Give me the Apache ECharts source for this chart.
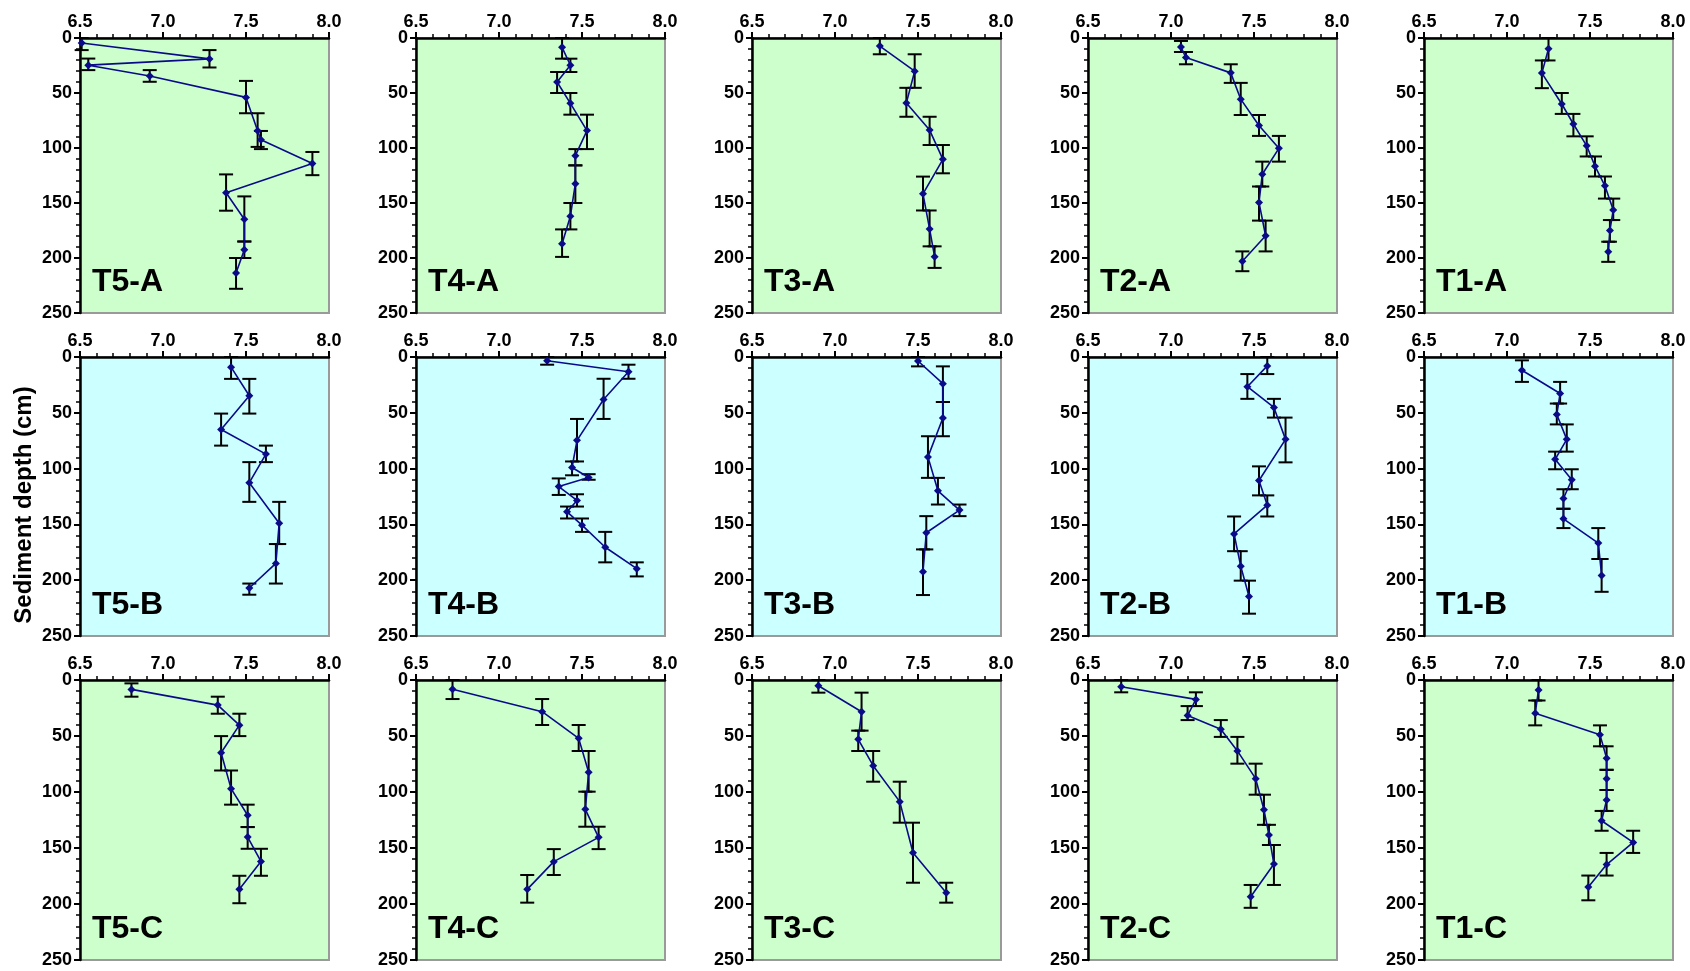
<!DOCTYPE html>
<html><head><meta charset="utf-8">
<script src="https://cdn.jsdelivr.net/npm/echarts@6/dist/echarts.min.js"></script>
<style>html,body{margin:0;padding:0;background:#fff}#c{width:1690px;height:971px}</style>
</head><body><div id="c"></div>
<script>
// ---- Data (pH vs sediment depth, depth error bars) ----
const phTicks = [6.5, 7.0, 7.5, 8.0];
const depthTicks = [0, 50, 100, 150, 200, 250];
const transects = ['T5', 'T4', 'T3', 'T2', 'T1'];
const zones = ['A', 'B', 'C'];
const yTitle = 'Sediment depth (cm)';

const T5A_ph    = [6.51, 7.28, 6.55, 6.92, 7.50, 7.57, 7.59, 7.90, 7.38, 7.49, 7.49, 7.44];
const T5A_depth = [4.5, 19, 24.7, 34.6, 54, 84.3, 92.5, 114, 140.7, 164.8, 192.5, 213.6];
const T5A_lo    = [0, 11, 18.7, 29.2, 39, 68.4, 84.5, 103.6, 124, 144, 185, 200];
const T5A_hi    = [11, 26.8, 29.2, 39.8, 68.4, 99, 101, 124.7, 157, 185, 200, 228];

const T4A_ph    = [7.38, 7.43, 7.35, 7.43, 7.53, 7.46, 7.46, 7.43, 7.38];
const T4A_depth = [8.5, 24.8, 40, 59.4, 84.2, 107, 132.4, 162, 187];
const T4A_lo    = [0, 18.8, 30.9, 50, 69.7, 101, 115.8, 150, 174];
const T4A_hi    = [18.8, 30.9, 50, 69.7, 101, 115.8, 150, 174, 199];

const T3A_ph    = [7.27, 7.48, 7.43, 7.57, 7.65, 7.53, 7.57, 7.60];
const T3A_depth = [7.3, 30.2, 59, 83.7, 110.3, 141.7, 173.7, 198.8];
const T3A_lo    = [0, 14.8, 45.3, 71.6, 97.3, 126, 156.8, 189.4];
const T3A_hi    = [14.8, 45.3, 71.6, 97.3, 123, 156.8, 189.4, 209];

const T2A_ph    = [7.06, 7.09, 7.36, 7.42, 7.53, 7.65, 7.55, 7.53, 7.57, 7.43];
const T2A_depth = [8.2, 17.8, 31.7, 55.6, 79.5, 100.3, 123.9, 149.5, 179.8, 203];
const T2A_lo    = [2.7, 12.7, 23.9, 40.8, 70, 89, 112.4, 135, 166, 194];
const T2A_hi    = [12.7, 23.9, 40.8, 70, 89, 112.4, 135, 166, 194, 212];

const T1A_ph    = [7.25, 7.21, 7.33, 7.40, 7.48, 7.53, 7.59, 7.64, 7.62, 7.61];
const T1A_depth = [9.7, 31.9, 60, 78.2, 98, 116.5, 134.4, 156.3, 174.9, 194.3];
const T1A_lo    = [0, 20.4, 50, 69, 89.4, 107.7, 125.9, 146, 165.5, 185.2];
const T1A_hi    = [20.4, 45.6, 69, 89.4, 107.7, 125.9, 146, 165.5, 185.2, 203.5];

const T5B_ph    = [7.41, 7.52, 7.35, 7.62, 7.52, 7.70, 7.68, 7.52];
const T5B_depth = [9.1, 34.7, 64.9, 87, 112.6, 148.9, 185, 207];
const T5B_lo    = [0, 19.6, 50.7, 79.4, 94.2, 129.8, 167.6, 203];
const T5B_hi    = [19.6, 50.7, 79.4, 94.2, 129.8, 167.6, 203, 213];

const T4B_ph    = [7.29, 7.78, 7.63, 7.47, 7.44, 7.54, 7.36, 7.47, 7.41, 7.50, 7.64, 7.83];
const T4B_depth = [3.3, 13.2, 38.1, 74.7, 99, 108, 116.1, 128.5, 138.7, 150.7, 170.5, 189.7];
const T4B_lo    = [0, 6.9, 19.5, 55.5, 93.6, 105, 108.8, 123, 134, 144.7, 156.7, 184];
const T4B_hi    = [6.9, 19.5, 55.5, 93.6, 106, 110, 123.6, 134, 144.7, 156.7, 184, 196.6];

const T3B_ph    = [7.50, 7.65, 7.65, 7.56, 7.62, 7.75, 7.55, 7.53];
const T3B_depth = [3.6, 23.9, 54.6, 89.5, 119.9, 137.2, 157.5, 192.4];
const T3B_lo    = [0, 8.4, 40.3, 71, 108.3, 132.2, 142.6, 172.4];
const T3B_hi    = [8.4, 40.3, 71, 108.3, 132.2, 142.6, 172.4, 213.3];

const T2B_ph    = [7.58, 7.46, 7.62, 7.69, 7.53, 7.58, 7.38, 7.42, 7.47];
const T2B_depth = [8, 26.6, 45.2, 73.8, 110.7, 132.8, 158.5, 187.4, 214.6];
const T2B_lo    = [0, 15.3, 37.5, 54.3, 98, 124, 142.9, 174, 200.4];
const T2B_hi    = [15.3, 37.5, 54.3, 94.4, 124, 142.9, 174, 200.4, 230];

const T1B_ph    = [7.09, 7.32, 7.30, 7.36, 7.29, 7.39, 7.34, 7.34, 7.55, 7.57];
const T1B_depth = [11.9, 32.7, 51.5, 73.8, 91.7, 110, 126.8, 145, 166.7, 195.8];
const T1B_lo    = [3, 22.3, 41.7, 60.4, 84.8, 100.6, 118.5, 136, 153.3, 181];
const T1B_hi    = [22.3, 41.7, 60.4, 84.8, 100.6, 118.5, 136, 153.3, 181, 210.4];

const T5C_ph    = [6.81, 7.33, 7.46, 7.35, 7.41, 7.51, 7.51, 7.59, 7.46];
const T5C_depth = [8.4, 22.4, 40.3, 65, 97, 120.8, 140.2, 162, 186.8];
const T5C_lo    = [3, 14.9, 30.1, 50.1, 80.8, 111.3, 131.3, 150.7, 174.8];
const T5C_hi    = [14.9, 30.1, 50.1, 80.8, 111.3, 131.3, 150.7, 174.8, 199.3];

const T4C_ph    = [6.72, 7.26, 7.48, 7.54, 7.52, 7.60, 7.33, 7.17];
const T4C_depth = [8.3, 28.3, 52.1, 82.4, 115.5, 140.5, 162.2, 186.9];
const T4C_lo    = [0, 17, 40.2, 63.4, 99.7, 131, 151, 174.1];
const T4C_hi    = [17, 40.2, 63.4, 99.7, 131, 151, 174.1, 198.8];

const T3C_ph    = [6.90, 7.16, 7.14, 7.23, 7.39, 7.47, 7.67];
const T3C_depth = [5.1, 28.3, 53, 76.5, 108.6, 154.2, 189.9];
const T3C_lo    = [0, 11.3, 45.2, 63.4, 90.8, 127.4, 181];
const T3C_hi    = [11.3, 45.2, 63.4, 90.8, 127.4, 181, 198.8];

const T2C_ph    = [6.70, 7.15, 7.10, 7.30, 7.40, 7.51, 7.56, 7.59, 7.62, 7.48];
const T2C_depth = [6, 17.3, 31.7, 43.9, 63.3, 88.1, 115.9, 138.3, 164.3, 193.5];
const T2C_lo    = [0, 11, 23.3, 35.8, 50.8, 74.7, 102.4, 129.3, 147.3, 183];
const T2C_hi    = [11, 23.3, 35.8, 50.8, 74.7, 102.4, 129.3, 147.3, 183, 203.4];

const T1C_ph    = [7.19, 7.17, 7.56, 7.60, 7.60, 7.60, 7.57, 7.76, 7.60, 7.49];
const T1C_depth = [8.9, 29.6, 48.8, 69.8, 88.2, 107.1, 125.7, 145, 164.8, 184.9];
const T1C_lo    = [0, 18.3, 40.5, 59.2, 80.2, 98.2, 116.9, 134.6, 154.4, 174.6];
const T1C_hi    = [18.3, 40.5, 59.2, 80.2, 98.2, 116.9, 134.6, 154.4, 174.6, 196.7];

const DATA = {
  T5A:[T5A_ph,T5A_depth,T5A_lo,T5A_hi], T4A:[T4A_ph,T4A_depth,T4A_lo,T4A_hi],
  T3A:[T3A_ph,T3A_depth,T3A_lo,T3A_hi], T2A:[T2A_ph,T2A_depth,T2A_lo,T2A_hi],
  T1A:[T1A_ph,T1A_depth,T1A_lo,T1A_hi],
  T5B:[T5B_ph,T5B_depth,T5B_lo,T5B_hi], T4B:[T4B_ph,T4B_depth,T4B_lo,T4B_hi],
  T3B:[T3B_ph,T3B_depth,T3B_lo,T3B_hi], T2B:[T2B_ph,T2B_depth,T2B_lo,T2B_hi],
  T1B:[T1B_ph,T1B_depth,T1B_lo,T1B_hi],
  T5C:[T5C_ph,T5C_depth,T5C_lo,T5C_hi], T4C:[T4C_ph,T4C_depth,T4C_lo,T4C_hi],
  T3C:[T3C_ph,T3C_depth,T3C_lo,T3C_hi], T2C:[T2C_ph,T2C_depth,T2C_lo,T2C_hi],
  T1C:[T1C_ph,T1C_depth,T1C_lo,T1C_hi]
};

// ---- Layout ----
const colLeft = [80, 416, 752, 1088, 1424];
const plotW = 249;
const rowTop = [38, 357, 680];
const rowH = [275, 279, 280];
const rowBg = ['#ccffcc', '#ccffff', '#ccffcc'];
const FONT = '"Liberation Sans", Arial, sans-serif';

const grids = [], xAxes = [], yAxes = [], series = [], titles = [];
let idx = 0;
zones.forEach((z, r) => {
  transects.forEach((t, c) => {
    const key = t + z;
    const [ph, dep, lo, hi] = DATA[key];
    grids.push({
      left: colLeft[c], top: rowTop[r], width: plotW, height: rowH[r],
      show: true, backgroundColor: rowBg[r], borderColor: '#9a9a9a', borderWidth: 2
    });
    xAxes.push({
      gridIndex: idx, type: 'value', position: 'top',
      min: phTicks[0], max: phTicks[phTicks.length - 1], interval: 0.5,
      axisLine: { show: true, onZero: false, lineStyle: { color: '#000', width: 2.5 } },
      axisTick: { show: true, length: 6, lineStyle: { color: '#000', width: 2 } },
      minorTick: { show: true, splitNumber: 5, length: 4, lineStyle: { color: '#000', width: 1.5 } },
      splitLine: { show: false },
      axisLabel: { margin: 7, color: '#000', fontSize: 18, fontWeight: 'bold', fontFamily: FONT,
        formatter: v => v.toFixed(1) }
    });
    yAxes.push({
      gridIndex: idx, type: 'value', inverse: true,
      min: depthTicks[0], max: depthTicks[depthTicks.length - 1], interval: 50,
      axisLine: { show: true, onZero: false, lineStyle: { color: '#000', width: 2.5 } },
      axisTick: { show: true, length: 6, lineStyle: { color: '#000', width: 2 } },
      minorTick: { show: true, splitNumber: 5, length: 4, lineStyle: { color: '#000', width: 1.5 } },
      splitLine: { show: false },
      axisLabel: { margin: 8, color: '#000', fontSize: 18, fontWeight: 'bold', fontFamily: FONT }
    });
    series.push({
      type: 'custom', xAxisIndex: idx, yAxisIndex: idx, z: 2,
      encode: { x: 0, y: [1, 2] },
      data: ph.map((v, i) => [v, lo[i], hi[i]]),
      renderItem: function (params, api) {
        const x = api.value(0);
        const p1 = api.coord([x, api.value(1)]);
        const p2 = api.coord([x, api.value(2)]);
        const w = 7;
        const st = { stroke: '#000', lineWidth: 2 };
        return { type: 'group', children: [
          { type: 'line', shape: { x1: p1[0], y1: p1[1], x2: p2[0], y2: p2[1] }, style: st },
          { type: 'line', shape: { x1: p1[0] - w, y1: p1[1], x2: p1[0] + w, y2: p1[1] }, style: st },
          { type: 'line', shape: { x1: p2[0] - w, y1: p2[1], x2: p2[0] + w, y2: p2[1] }, style: st }
        ]};
      }
    });
    series.push({
      type: 'line', xAxisIndex: idx, yAxisIndex: idx, z: 3,
      data: ph.map((v, i) => [v, dep[i]]),
      symbol: 'diamond', symbolSize: 8,
      lineStyle: { color: '#0b0b8a', width: 1.6 },
      itemStyle: { color: '#0b0b8a' }
    });
    titles.push({
      text: t + '-' + z, left: colLeft[c] + 12, top: rowTop[r] + rowH[r] - 47, padding: 0,
      textStyle: { fontSize: 32, fontWeight: 'bold', color: '#000', fontFamily: FONT }
    });
    idx++;
  });
});

const chart = echarts.init(document.getElementById('c'), null, { renderer: 'canvas' });
chart.setOption({
  animation: false,
  backgroundColor: '#fff',
  title: titles,
  grid: grids, xAxis: xAxes, yAxis: yAxes, series: series,
  graphic: [{
    type: 'text', x: 24, y: 505, rotation: Math.PI / 2,
    style: { text: yTitle, align: 'center', verticalAlign: 'middle',
      font: 'bold 24px ' + FONT, fill: '#000' }
  }]
});
</script></body></html>
